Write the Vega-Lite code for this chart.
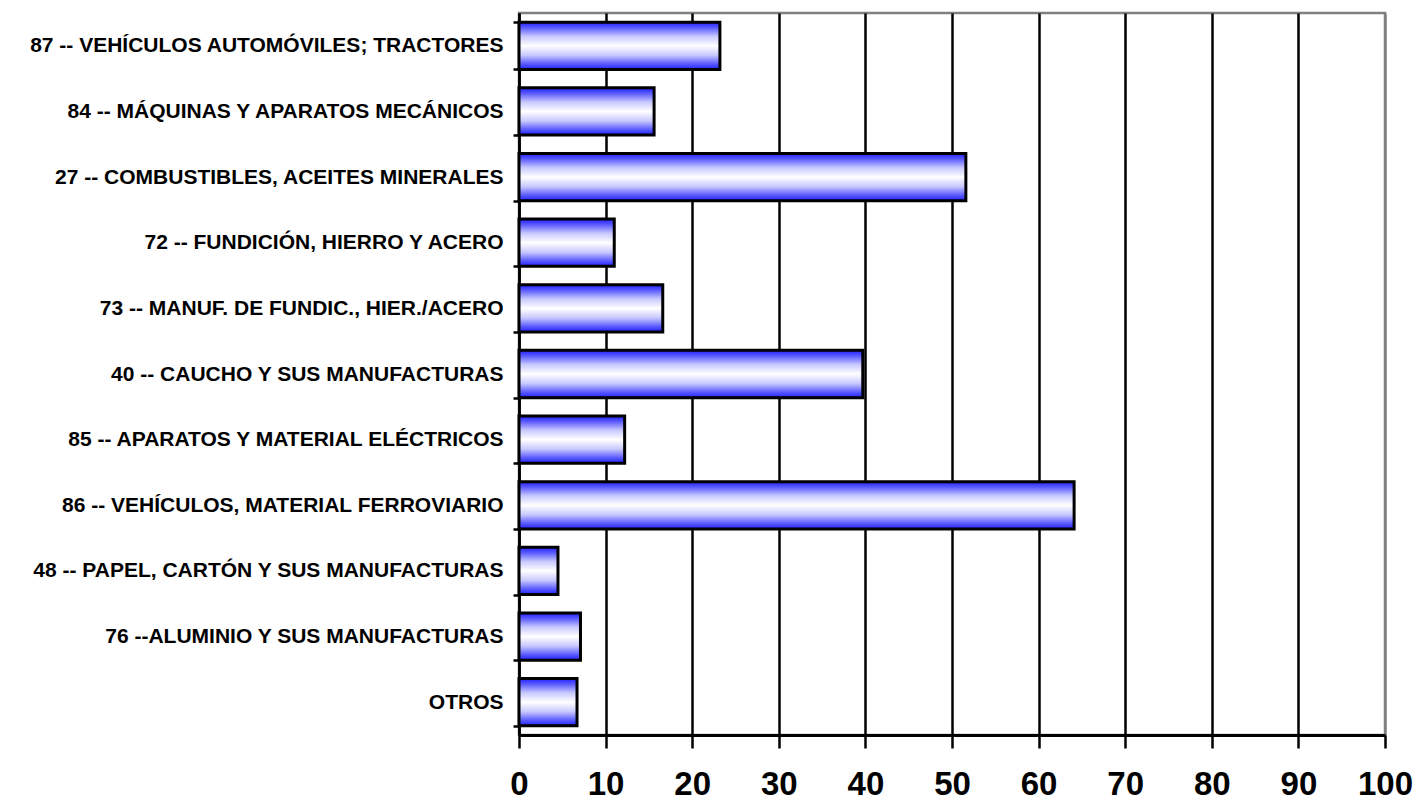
{
  "$schema": "https://vega.github.io/schema/vega-lite/v6.json",
  "autosize": {"type": "none"},
  "padding": {"left": 519, "top": 13, "right": 38, "bottom": 69},
  "width": 866,
  "height": 722,
  "background": "white",
  "config": {
    "view": {"stroke": "#808080", "strokeWidth": 2.5},
    "font": "Liberation Sans"
  },
  "data": {
    "values": [
      {"capitulo": "87 -- VEHÍCULOS AUTOMÓVILES; TRACTORES", "valor": 23.2},
      {"capitulo": "84 -- MÁQUINAS Y APARATOS MECÁNICOS", "valor": 15.6},
      {"capitulo": "27 -- COMBUSTIBLES, ACEITES MINERALES", "valor": 51.6},
      {"capitulo": "72 --  FUNDICIÓN, HIERRO Y ACERO", "valor": 11.0},
      {"capitulo": "73 -- MANUF. DE FUNDIC., HIER./ACERO", "valor": 16.6},
      {"capitulo": "40 -- CAUCHO Y SUS MANUFACTURAS", "valor": 39.7},
      {"capitulo": "85 -- APARATOS Y MATERIAL ELÉCTRICOS", "valor": 12.2},
      {"capitulo": "86 -- VEHÍCULOS, MATERIAL FERROVIARIO", "valor": 64.1},
      {"capitulo": "48 -- PAPEL, CARTÓN Y SUS MANUFACTURAS", "valor": 4.5},
      {"capitulo": "76 --ALUMINIO Y SUS MANUFACTURAS", "valor": 7.1},
      {"capitulo": "OTROS", "valor": 6.7}
    ]
  },
  "mark": {
    "type": "bar",
    "stroke": "black",
    "strokeWidth": 3,
    "color": {
      "gradient": "linear",
      "x1": 0, "y1": 0, "x2": 0, "y2": 1,
      "stops": [
        {"offset": 0, "color": "#2020ff"},
        {"offset": 0.12, "color": "#5c5cff"},
        {"offset": 0.3, "color": "#c8c8ff"},
        {"offset": 0.5, "color": "#ffffff"},
        {"offset": 0.7, "color": "#c8c8ff"},
        {"offset": 0.88, "color": "#5c5cff"},
        {"offset": 1, "color": "#2020ff"}
      ]
    }
  },
  "encoding": {
    "y": {
      "field": "capitulo",
      "type": "nominal",
      "sort": null,
      "scale": {"paddingInner": 0.28, "paddingOuter": 0.14},
      "axis": {
        "title": null,
        "tickBand": "extent",
        "domainColor": "black",
        "domainWidth": 2.5,
        "tickColor": "black",
        "tickWidth": 2.5,
        "tickSize": 6,
        "labelPadding": 10,
        "labelFont": "Liberation Sans",
        "labelFontWeight": "bold",
        "labelFontSize": 21,
        "labelColor": "black",
        "labelLimit": 600
      }
    },
    "x": {
      "field": "valor",
      "type": "quantitative",
      "scale": {"domain": [0, 100], "nice": false},
      "axis": {
        "title": null,
        "values": [0, 10, 20, 30, 40, 50, 60, 70, 80, 90, 100],
        "grid": true,
        "gridColor": {"condition": {"test": "datum.value == 100", "value": "#808080"}, "value": "black"},
        "gridWidth": 2.5,
        "gridOpacity": 1,
        "domainColor": "black",
        "domainWidth": 3,
        "tickColor": "black",
        "tickWidth": 2.5,
        "tickSize": 13,
        "labelPadding": 20,
        "labelFont": "Liberation Sans",
        "labelFontWeight": "bold",
        "labelFontSize": 33,
        "labelColor": "black",
        "labelFlush": false,
        "labelOverlap": false
      }
    }
  }
}
